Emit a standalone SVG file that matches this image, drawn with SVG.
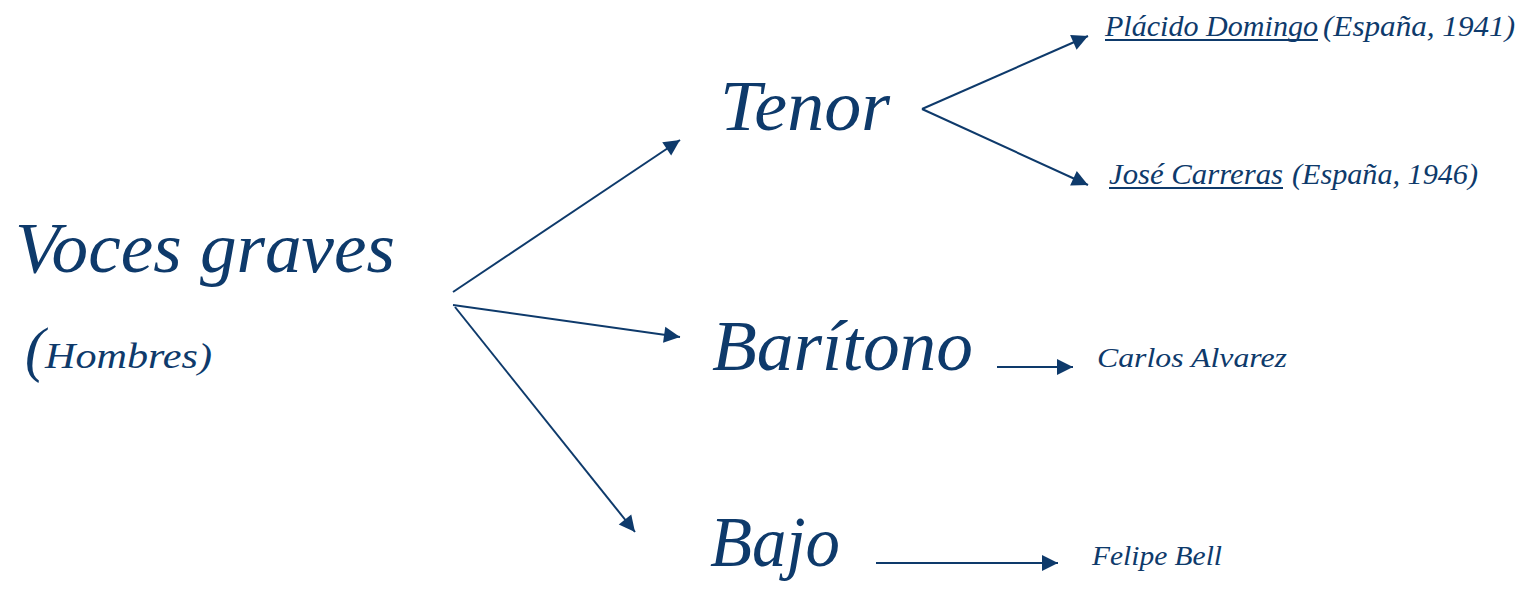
<svg xmlns="http://www.w3.org/2000/svg" width="1526" height="589" viewBox="0 0 1526 589">
<style>
text{font-family:"Liberation Serif","DejaVu Serif",serif;font-style:italic;fill:#0E3A6B}
.big{font-size:72px}
.mid{font-size:30px}
.sm{font-size:28px}
.ln{stroke:#0E3A6B;stroke-width:2;fill:none;marker-end:url(#ah)}
.ul{stroke:#0E3A6B;stroke-width:2}
</style>
<defs>
<marker id="ah" viewBox="0 0 10 10" refX="9" refY="5" markerWidth="8" markerHeight="8" markerUnits="userSpaceOnUse" orient="auto" style="overflow:visible">
<path d="M0,0 L10,5 L0,10 z" fill="#0E3A6B" transform="scale(2) translate(-5.5,-2.5)"/>
</marker>
</defs>
<rect width="1526" height="589" fill="#ffffff"/>
<g id="connectors">
<line class="ln" x1="453" y1="292" x2="680" y2="140"/>
<line class="ln" x1="453" y1="305" x2="680" y2="337"/>
<line class="ln" x1="455" y1="307" x2="635" y2="532"/>
<line class="ln" x1="922" y1="109" x2="1088" y2="36"/>
<line class="ln" x1="922" y1="109" x2="1088" y2="185"/>
<line class="ln" x1="997" y1="367" x2="1073" y2="367"/>
<line class="ln" x1="876" y1="563" x2="1058" y2="563"/>
</g>
<g id="voces">
<text class="big" x="15" y="272" textLength="380" lengthAdjust="spacingAndGlyphs">Voces graves</text>
<text x="25" y="370" style="font-size:62px" textLength="20" lengthAdjust="spacingAndGlyphs">(</text>
<text x="45" y="368" style="font-size:36px" textLength="167" lengthAdjust="spacingAndGlyphs">Hombres)</text>
</g>
<g id="tenor">
<text class="big" x="720" y="130" textLength="170" lengthAdjust="spacingAndGlyphs">Tenor</text>
</g>
<g id="baritono">
<text class="big" x="712" y="370" textLength="261" lengthAdjust="spacingAndGlyphs">Barítono</text>
</g>
<g id="bajo">
<text class="big" x="710" y="566" textLength="130" lengthAdjust="spacingAndGlyphs">Bajo</text>
</g>
<g id="placido">
<text class="mid" x="1105" y="36" textLength="213" lengthAdjust="spacingAndGlyphs">Plácido Domingo</text>
<line class="ul" x1="1105" y1="40" x2="1318" y2="40"/>
<text class="mid" x="1323" y="36" textLength="192" lengthAdjust="spacingAndGlyphs">(España, 1941)</text>
</g>
<g id="jose">
<text class="mid" x="1109" y="184" textLength="174" lengthAdjust="spacingAndGlyphs">José Carreras</text>
<line class="ul" x1="1109" y1="188" x2="1283" y2="188"/>
<text class="mid" x="1292" y="184" textLength="186" lengthAdjust="spacingAndGlyphs">(España, 1946)</text>
</g>
<g id="carlos">
<text class="sm" x="1097" y="367" textLength="190" lengthAdjust="spacingAndGlyphs">Carlos Alvarez</text>
</g>
<g id="felipe">
<text class="sm" x="1092" y="565" textLength="130" lengthAdjust="spacingAndGlyphs">Felipe Bell</text>
</g>
</svg>
